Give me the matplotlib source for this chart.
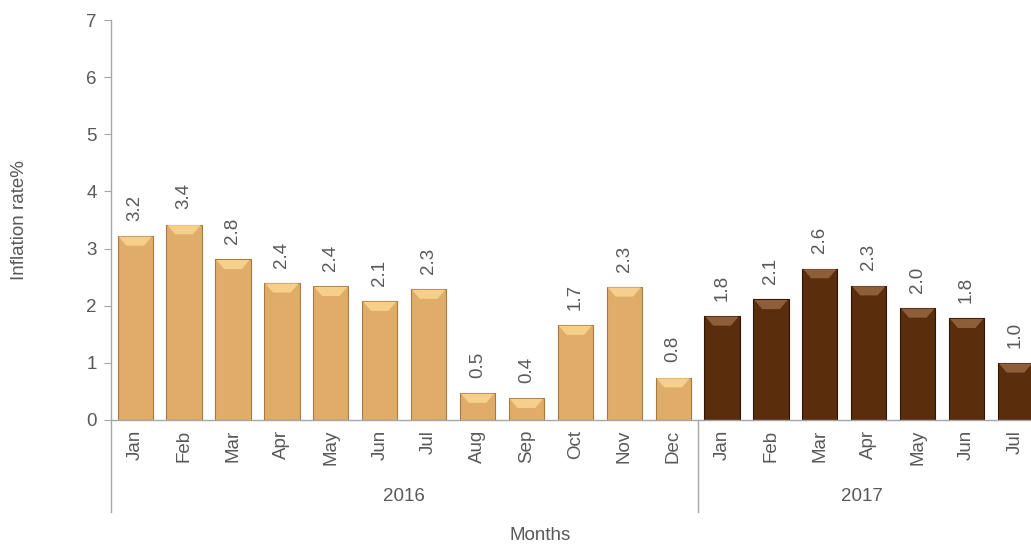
import matplotlib
matplotlib.use("Agg")
import matplotlib.pyplot as plt
from matplotlib.patches import Polygon

months_2016 = ["Jan", "Feb", "Mar", "Apr", "May", "Jun", "Jul", "Aug", "Sep", "Oct", "Nov", "Dec"]
months_2017 = ["Jan", "Feb", "Mar", "Apr", "May", "Jun", "Jul"]
values_2016 = [3.22, 3.42, 2.81, 2.40, 2.34, 2.08, 2.29, 0.47, 0.38, 1.66, 2.33, 0.74]
values_2017 = [1.82, 2.11, 2.65, 2.35, 1.96, 1.78, 1.00]
labels_2016 = ["3.2", "3.4", "2.8", "2.4", "2.4", "2.1", "2.3", "0.5", "0.4", "1.7", "2.3", "0.8"]
labels_2017 = ["1.8", "2.1", "2.6", "2.3", "2.0", "1.8", "1.0"]
years = ["2016", "2017"]
yticks = [0, 1, 2, 3, 4, 5, 6, 7]

plt.rcParams['font.family'] = ['Liberation Sans', 'DejaVu Sans']
text_c = "#595959"
axis_c = "#A6A6A6"
fs = 13.5

fig = plt.figure(figsize=(10.31, 5.45), dpi=100)
ax = fig.add_axes([0.1074, 0.2294, 0.9013, 0.7339])

cats = months_2016 + months_2017
vals = values_2016 + values_2017
labs = labels_2016 + labels_2017
n16 = len(months_2016)
colors = ["#E0AC69"] * n16 + ["#5A2D0C"] * len(months_2017)
edges = ["#A87A40"] * n16 + ["#2E1505"] * len(months_2017)
bevel = ["#F6D08A"] * n16 + ["#8E5E3A"] * len(months_2017)
xs = list(range(len(cats)))

bars = ax.bar(xs, vals, width=0.72, color=colors, edgecolor=edges, linewidth=0.8, zorder=2)
for b, bc in zip(bars, bevel):
    x0 = b.get_x(); w = b.get_width(); h = b.get_height()
    dx = 0.18; dy = 0.17
    poly = Polygon([(x0 + 0.02, h - 0.01), (x0 + w - 0.02, h - 0.01), (x0 + w - dx, h - dy), (x0 + dx, h - dy)],
                   closed=True, facecolor=bc, edgecolor='none', zorder=3)
    ax.add_patch(poly)

for b, t in zip(bars, labs):
    ax.annotate(t, (b.get_x() + b.get_width() / 2, b.get_height()),
                xytext=(0, 11), textcoords="offset points", rotation=90,
                ha="center", va="bottom", fontsize=fs, color=text_c)

ax.set_xlim(-0.5, len(cats) - 0.5)
ax.set_ylim(0, 7)
ax.set_yticks(yticks)
ax.set_xticks(xs)
ax.set_xticklabels(cats, rotation=90, fontsize=fs, color=text_c)
ax.tick_params(axis='x', length=0, pad=7)
ax.tick_params(axis='y', length=5, color=axis_c, labelsize=fs, labelcolor=text_c, pad=5)
for s in ["top", "right"]:
    ax.spines[s].set_visible(False)
for s in ["left", "bottom"]:
    ax.spines[s].set_color(axis_c)
    ax.spines[s].set_linewidth(1.0)

tr = ax.get_xaxis_transform()
sep_bottom = -0.23
for xv in [-0.5, n16 - 0.5]:
    ax.plot([xv, xv], [0, sep_bottom], transform=tr, color=axis_c, lw=1.0, clip_on=False)
ax.text((n16 - 1) / 2, -0.1925, years[0], transform=tr, ha="center", va="center", fontsize=fs, color=text_c)
ax.text(n16 + (len(months_2017) - 1) / 2 - 0.15, -0.1925, years[1], transform=tr, ha="center", va="center", fontsize=fs, color=text_c)

fig.text(540 / 1031, 1 - 535 / 545, "Months", ha="center", va="center", fontsize=fs, color=text_c)
fig.text(20 / 1031, 1 - 220 / 545, "Inflation rate%", ha="center", va="center", rotation=90, fontsize=fs, color=text_c)

fig.savefig("out.png", dpi=100)
